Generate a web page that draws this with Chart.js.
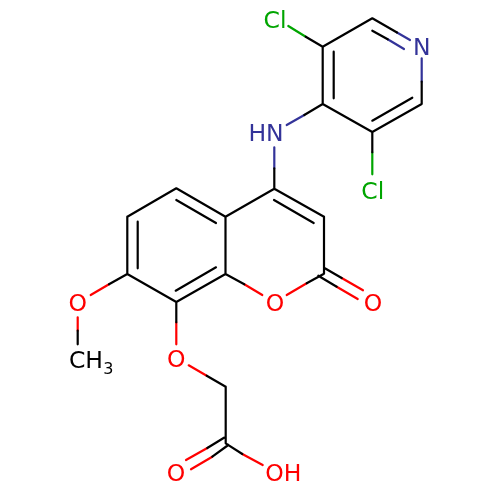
<!DOCTYPE html>
<html>
<head>
<meta charset="utf-8">
<style>html,body{margin:0;padding:0;background:#fff}canvas{display:block}</style>
<script src="https://cdn.jsdelivr.net/npm/chart.js@4"></script>
</head>
<body>
<canvas id="c" width="500" height="500" style="width:500px;height:500px"></canvas>
<script>
// each bond segment: x1, y1, x2, y2 in picture units
const blackBonds = [
  [372.3,18.3,397,32.5],[372.3,30.7,387.7,39.3],[372.3,18.3,322.7,46.7],[322.7,46.7,322.7,104],
  [333.7,51.7,333.7,98.3],[322.7,104,372.3,132],[372.3,132,421.7,104],[372.3,120.7,412.3,97.7],
  [421.7,81.7,421.7,104],[322.7,46.7,305.7,36.7],[322.7,104,304.3,115],[372.3,132,372.3,152.3],
  [274.3,168.3,274.3,188.7],[274.3,188.7,225.5,216.7],[274.3,188.7,324,216.7],[274,200,313.7,223],
  [324,216.7,324,273.7],[225.5,216.7,225.5,274],[225.5,274,244.3,284.3],[324,273.7,306.7,283.3],
  [324,267.7,341.7,278],[318.3,275.7,336.7,286.7],
  [225.5,216.7,176.3,188.3],[176.3,200,216,223],[176.3,188.3,127.3,216.7],[127.3,216.7,127.3,274],
  [137.7,221.7,137.7,268.3],[127.3,274,176.3,302],[176.3,302,225.5,274],[175.7,290.7,216,267.3],
  [127.3,274,109,284.3],[77.7,330.7,77.7,344.3],[176.3,302,176.3,322.3],
  [206.7,375.7,225.7,386.7],[225.7,386.7,225.7,443],[224,437.7,207.3,448],[228.3,445,212.3,456.7],
  [225.7,443.3,242.3,454]
];
const redBonds = [
  [244.3,284.3,262.3,295],[306.7,283.3,286.7,295],[341.7,278,363,290.3],[336.7,286.7,357.7,299],
  [109,284.3,90.7,295],[77.7,317.3,77.7,330.7],[176.3,322.3,176.3,344.3],[188.7,365.3,206.7,375.7],
  [207.3,448,186,460],[212.3,456.7,191,469.3],[242.3,454,262.7,465]
];
const blueBonds = [
  [397,32.5,410,40],[387.7,39.3,404,49],[421.7,58.3,421.7,81.7],[304.3,115,286.7,125],[274.3,147.3,274.3,168.3]
];
const greenBonds = [
  [305.7,36.7,288.3,26],[372.3,152.3,372.3,174.3]
];
const atomText = ["Cl","N","HN","Cl","O","O","O","CH","3","O","O","OH"];
const atomX    = [275,421.7,266,372.7,275,373,77.7,86,108.3,176.3,176,283.3];
const atomY    = [22,49,135,192.5,304.5,304.5,305,361.5,370,361,474.5,475];
const atomSize = [23.5,23.5,23.5,23.5,23.5,23.5,23.5,23.5,16,23.5,23.5,23.5];
const atomHue  = ["#00a500","#333399","#333399","#00a500","#ff0000","#ff0000","#ff0000","#000000","#000000","#ff0000","#ff0000","#ff0000"];

function toPoints(bonds){
  const pts=[];
  bonds.forEach(b=>{pts.push({x:b[0],y:b[1]},{x:b[2],y:b[3]},{x:b[2],y:null});});
  return pts;
}
function bondSet(bonds,color){
  return {data:toPoints(bonds),showLine:true,spanGaps:false,borderColor:color,borderWidth:2.2,
          borderCapStyle:'round',pointRadius:0,pointHoverRadius:0,tension:0};
}
const atomLabels={id:'atomLabels',afterDatasetsDraw(chart){
  const {ctx,scales:{x,y}}=chart;
  ctx.save();ctx.textAlign='center';ctx.textBaseline='middle';
  atomText.forEach((t,i)=>{
    ctx.font=atomSize[i]+'px "DejaVu Sans"';
    ctx.fillStyle=atomHue[i];
    ctx.fillText(t,x.getPixelForValue(atomX[i]),y.getPixelForValue(atomY[i]));
  });
  ctx.restore();
}};
new Chart(document.getElementById('c'),{
  type:'scatter',
  data:{datasets:[bondSet(blackBonds,'#000000'),bondSet(redBonds,'#ff0000'),bondSet(blueBonds,'#333399'),bondSet(greenBonds,'#00a500')]},
  options:{responsive:false,animation:false,layout:{padding:0},
    plugins:{legend:{display:false},tooltip:{enabled:false},title:{display:false}},
    scales:{x:{type:'linear',min:0,max:500,display:false},y:{type:'linear',min:0,max:500,reverse:true,display:false}}},
  plugins:[atomLabels]
});
</script>
</body>
</html>
